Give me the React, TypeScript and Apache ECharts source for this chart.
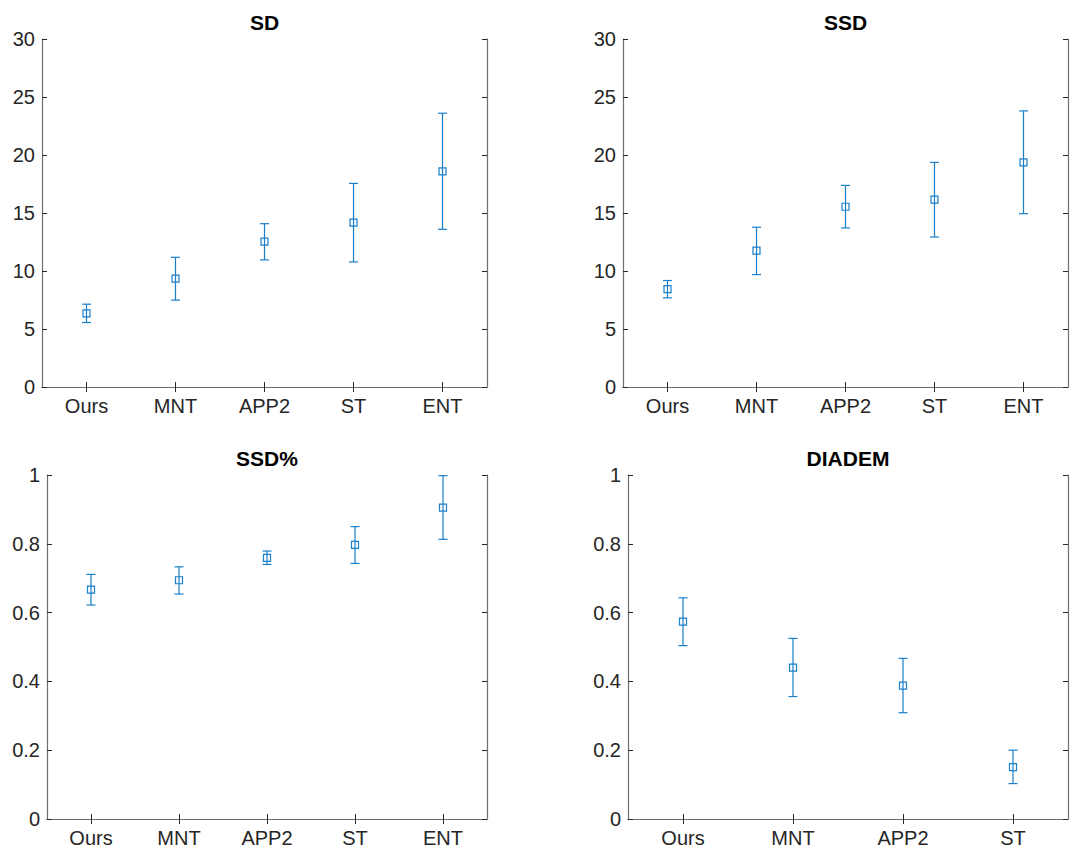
import React, { useEffect, useRef } from "react";
import * as echarts from "echarts";

const cats5 = ["Ours", "MNT", "APP2", "ST", "ENT"];
const cats4 = ["Ours", "MNT", "APP2", "ST"];

const sdMean = [6.34, 9.35, 12.53, 14.17, 18.58];
const sdLow = [5.56, 7.49, 10.96, 10.78, 13.59];
const sdHigh = [7.14, 11.18, 14.08, 17.55, 23.6];

const ssdMean = [8.43, 11.76, 15.54, 16.15, 19.36];
const ssdLow = [7.69, 9.69, 13.71, 12.93, 14.94];
const ssdHigh = [9.18, 13.77, 17.38, 19.36, 23.8];

const ssdPctMean = [0.667, 0.694, 0.759, 0.797, 0.905];
const ssdPctLow = [0.622, 0.654, 0.74, 0.743, 0.813];
const ssdPctHigh = [0.711, 0.733, 0.779, 0.85, 0.998];

const diademMean = [0.574, 0.44, 0.388, 0.151];
const diademLow = [0.504, 0.356, 0.309, 0.103];
const diademHigh = [0.643, 0.525, 0.467, 0.2];

const titles = ["SD", "SSD", "SSD%", "DIADEM"];
const yMax = [30, 30, 1, 1];
const yInterval = [5, 5, 0.2, 0.2];

const BLUE = "#1a7fc9";
const AX = "#262626";
const BOX = "#6e6e6e";
const FONT = "'Liberation Sans', Arial, sans-serif";

const grids = [
  { left: 42, top: 39, width: 445, height: 348 },
  { left: 623, top: 39, width: 445, height: 348 },
  { left: 47, top: 475, width: 440, height: 344 },
  { left: 628, top: 475, width: 440, height: 344 },
];

function build(m: number[], lo: number[], hi: number[]) {
  return m.map((v, i) => [i, v, lo[i], hi[i]]);
}

const renderItem = (params: any, api: any) => {
  const x = api.value(0);
  const pm = api.coord([x, api.value(1)]);
  const pl = api.coord([x, api.value(2)]);
  const ph = api.coord([x, api.value(3)]);
  const cx = pm[0];
  const cw = 4.5;
  const s = 3.5;
  const st = { stroke: BLUE, lineWidth: 1.2, fill: "none" };
  return {
    type: "group",
    children: [
      { type: "line", shape: { x1: cx, y1: pl[1], x2: cx, y2: ph[1] }, style: st },
      { type: "line", shape: { x1: cx - cw, y1: pl[1], x2: cx + cw, y2: pl[1] }, style: st },
      { type: "line", shape: { x1: cx - cw, y1: ph[1], x2: cx + cw, y2: ph[1] }, style: st },
      { type: "rect", shape: { x: cx - s, y: pm[1] - s, width: 2 * s, height: 2 * s }, style: st },
    ],
  };
};

export default function App() {
  const ref = useRef<HTMLDivElement>(null);
  useEffect(() => {
    if (!ref.current) return;
    const chart = echarts.init(ref.current, undefined, { renderer: "svg" });
    const datasets = [
      build(sdMean, sdLow, sdHigh),
      build(ssdMean, ssdLow, ssdHigh),
      build(ssdPctMean, ssdPctLow, ssdPctHigh),
      build(diademMean, diademLow, diademHigh),
    ];
    const catsFor = [cats5, cats5, cats5, cats4];
    const xAxis: any[] = [];
    const yAxis: any[] = [];
    const series: any[] = [];
    const graphic: any[] = [];
    grids.forEach((g, i) => {
      const axisLine = { show: true, lineStyle: { color: BOX, width: 1.2 } };
      const axisTick = { show: true, inside: true, length: 5, alignWithLabel: true, lineStyle: { color: AX, width: 1 } };
      xAxis.push({
        type: "category", gridIndex: i, data: catsFor[i], position: "bottom", boundaryGap: true,
        axisLine, axisTick,
        axisLabel: { fontSize: 20, color: AX, fontFamily: FONT, margin: 9 },
        splitLine: { show: false },
      });
      xAxis.push({
        type: "category", gridIndex: i, data: catsFor[i], position: "top", boundaryGap: true,
        axisLine, axisTick, axisLabel: { show: false }, splitLine: { show: false },
      });
      yAxis.push({
        type: "value", gridIndex: i, min: 0, max: yMax[i], interval: yInterval[i], position: "left",
        axisLine, axisTick: { show: true, inside: true, length: 5, lineStyle: { color: AX, width: 1 } },
        axisLabel: { fontSize: 20, color: AX, fontFamily: FONT, margin: 7 },
        splitLine: { show: false },
      });
      yAxis.push({
        type: "value", gridIndex: i, min: 0, max: yMax[i], interval: yInterval[i], position: "right",
        axisLine, axisTick: { show: true, inside: true, length: 5, lineStyle: { color: AX, width: 1 } },
        axisLabel: { show: false }, splitLine: { show: false },
      });
      series.push({
        type: "custom", name: titles[i], xAxisIndex: 2 * i, yAxisIndex: 2 * i,
        renderItem, data: datasets[i], encode: { x: 0, y: [1, 2, 3] }, clip: false,
      });
      graphic.push({
        type: "text", x: g.left + g.width / 2, y: i < 2 ? 22 : 458,
        style: { text: titles[i], fontSize: 21, fontWeight: "bold", fontFamily: FONT, fill: "#000", align: "center", verticalAlign: "middle" },
      });
    });
    chart.setOption({
      animation: false,
      backgroundColor: "#fff",
      grid: grids.map((g) => ({ ...g, containLabel: false })),
      xAxis, yAxis, series, graphic,
    });
    return () => chart.dispose();
  }, []);
  return <div ref={ref} style={{ position: "fixed", left: 0, top: 0, width: 1072, height: 849, background: "#fff" }} />;
}
